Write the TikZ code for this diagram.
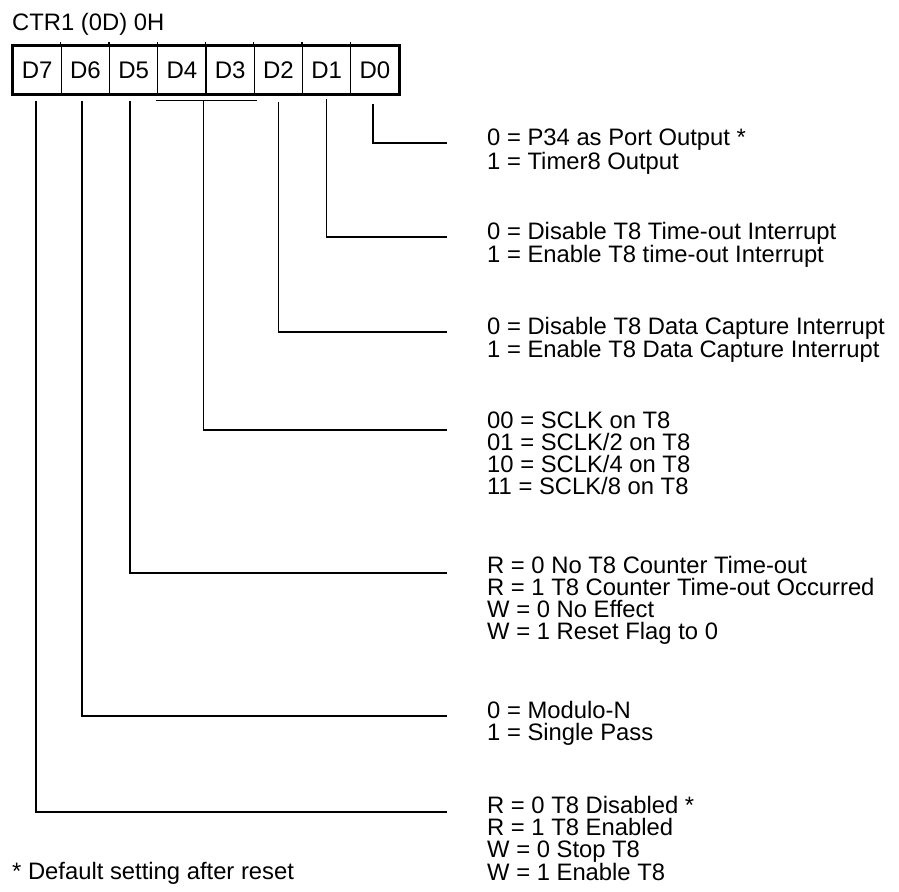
\documentclass[tikz,border=0pt]{standalone}
\usepackage{fontspec}
\setmainfont{Liberation Sans}
\begin{document}
\begin{tikzpicture}[x=1pt,y=-1pt,
  lbl/.style={anchor=north west, inner sep=0pt, align=left, font=\fontsize{23.8}{22}\selectfont},
  cell/.style={draw, line width=1.2pt, minimum width=48.25pt, minimum height=48pt, inner sep=0pt,
    text height=17pt, text depth=0pt, font=\fontsize{24}{24}\selectfont},
  lead/.style={line width=1.6pt},
  frame/.style={line width=2.4pt}]
\useasboundingbox (0,0) rectangle (899,891);

% title
\node[lbl] (title) at (12,13) {CTR1 (0D) 0H};

% register cells
\node[cell] (d7) at (37.125,70) {D7};
\node[cell] (d6) at (85.375,70) {D6};
\node[cell] (d5) at (133.625,70) {D5};
\node[cell] (d4) at (181.875,70) {D4};
\node[cell] (d3) at (230.125,70) {D3};
\node[cell] (d2) at (278.375,70) {D2};
\node[cell] (d1) at (326.625,70) {D1};
\node[cell] (d0) at (374.875,70) {D0};
\draw[frame] (d7.north west) rectangle (d0.south east);
\foreach \c in {d6,d5,d4,d3,d2,d1,d0}
  \draw[line width=1.2pt] (\c.north west) -- ++(0,-3);

% label texts
\node[lbl] (l0) at (487,129) {0 = P34 as Port Output *\\1 = Timer8 Output};
\node[lbl] (l1) at (487,222) {0 = Disable T8 Time-out Interrupt\\1 = Enable T8 time-out Interrupt};
\node[lbl] (l2) at (487,317) {0 = Disable T8 Data Capture Interrupt\\1 = Enable T8 Data Capture Interrupt};
\node[lbl] (l43) at (487,412) {00 = SCLK on T8\\01 = SCLK/2 on T8\\10 = SCLK/4 on T8\\11 = SCLK/8 on T8};
\node[lbl] (l5) at (487,556) {R = 0 No T8 Counter Time-out\\R = 1 T8 Counter Time-out Occurred\\W = 0 No Effect\\W = 1 Reset Flag to 0};
\node[lbl] (l6) at (487,701) {0 = Modulo-N\\1 = Single Pass};
\node[lbl] (l7) at (487,796) {R = 0 T8 Disabled *\\R = 1 T8 Enabled\\W = 0 Stop T8\\W = 1 Enable T8};
\node[lbl] (note) at (12,862) {* Default setting after reset};

% leader end points
\coordinate (e0) at (447,143);
\coordinate (e1) at (447,237);
\coordinate (e2) at (447,332);
\coordinate (e43) at (447,430);
\coordinate (e5) at (447,573);
\coordinate (e6) at (447,716);
\coordinate (e7) at (447,812);

% leaders
\draw[lead] ([xshift=-2pt,yshift=-9pt]d0.south) |- (e0);
\draw[lead] ([yshift=-4pt]d1.south) |- (e1);
\draw[lead] ([yshift=-7pt]d2.south) |- (e2);
\draw[lead] ([xshift=-1.5pt,yshift=-6pt]d4.south west) -- ([xshift=2pt,yshift=-6pt]d3.south east);
\coordinate (b43) at ([xshift=-3pt,yshift=-6pt]d4.south east);
\draw[lead] (b43) |- (e43);
\draw[lead] ([xshift=-3.5pt,yshift=-6pt]d5.south) |- (e5);
\draw[lead] ([xshift=-3.5pt,yshift=-6pt]d6.south) |- (e6);
\draw[lead] ([xshift=-1pt,yshift=-6pt]d7.south) |- (e7);
\end{tikzpicture}
\end{document}
